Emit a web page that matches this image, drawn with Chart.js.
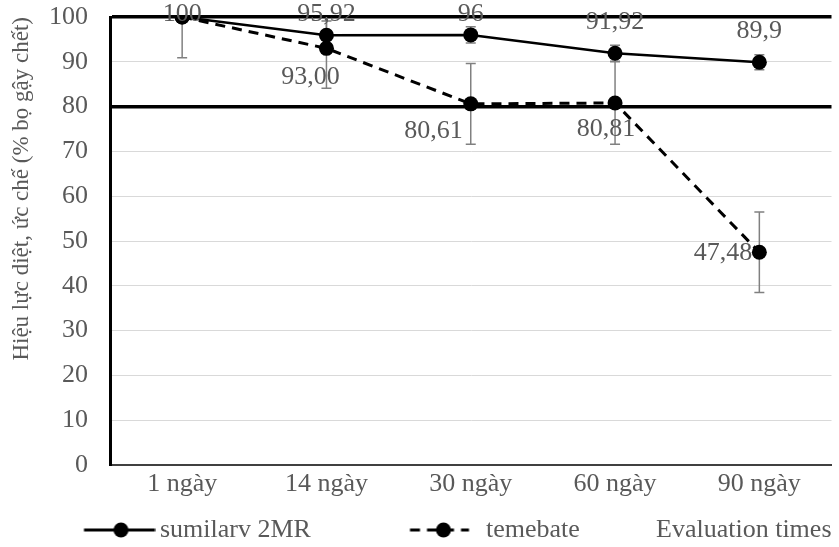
<!DOCTYPE html>
<html><head><meta charset="utf-8">
<script src="https://cdn.jsdelivr.net/npm/chart.js@4.4.1/dist/chart.umd.min.js"></script>
<style>html,body{margin:0;padding:0;background:#fff;}#wrap{width:839px;height:547px;position:relative;}</style>
</head><body><div id="wrap"><canvas id="c" width="839" height="547" style="width:839px;height:547px"></canvas></div>
<script>
// ---- data ----
const categories = ['1 ngày', '14 ngày', '30 ngày', '60 ngày', '90 ngày'];
const sumilarv = [100, 95.92, 96, 91.92, 89.9];
const temebate = [100, 93.00, 80.61, 80.81, 47.48];
const sumilarvErr = [0, 3.2, 1.8, 1.8, 1.7];
const temebateErr = [9.1, 8.9, 9.0, 9.2, 9.0];
const sumilarvLabels = ['100', '95,92', '96', '91,92', '89,9'];
const temebateLabels = ['', '93,00', '80,61', '80,81', '47,48'];
const yTicks = [0, 10, 20, 30, 40, 50, 60, 70, 80, 90, 100];

// ---- style ----
const FONT = "'Liberation Serif', serif";
const TXT = '#595959';
const FS = 26;
Chart.defaults.font.family = FONT;
const temebateLabelPlacement = [null, ['center', -16, 29], ['right', -8, 27], ['center', -9, 26], ['right', -7, 1]];

// legend geometry
const LEG_BOX = 63, LEG_X0 = 84, LEG_X1 = 410, LEG_Y = 530;
const mctx = document.createElement('canvas').getContext('2d');
mctx.font = FS + 'px ' + FONT;
const LEG_PAD = Math.round(LEG_X1 - LEG_X0 - (LEG_BOX + FS / 2 + mctx.measureText('sumilarv 2MR').width));

function legendMarker(dashed) {
  const cv = document.createElement('canvas');
  cv.width = 80; cv.height = 18;
  const g = cv.getContext('2d');
  g.strokeStyle = '#000'; g.lineWidth = 3;
  if (dashed) g.setLineDash([10, 7]);
  g.beginPath(); g.moveTo(8.5, 9); g.lineTo(dashed ? 67.5 : 79.5, 9); g.stroke();
  g.setLineDash([]);
  g.fillStyle = '#000'; g.beginPath(); g.arc(dashed ? 42 : 45.5, 9, 7.5, 0, Math.PI * 2); g.fill();
  return cv;
}
const markers = [legendMarker(false), legendMarker(true)];
const errs = [sumilarvErr, temebateErr];

const errorBars = {
  id: 'errorBars',
  beforeDatasetsDraw(chart) {
    const {ctx, chartArea: a, scales: {x, y}} = chart;
    ctx.save();
    ctx.beginPath(); ctx.rect(a.left, a.top, a.right - a.left, a.bottom - a.top); ctx.clip();
    ctx.strokeStyle = '#808080'; ctx.lineWidth = 1.5;
    chart.data.datasets.forEach((ds, di) => {
      ds.data.forEach((v, i) => {
        const e = errs[di][i];
        if (!e) return;
        const px = x.getPixelForValue(i);
        const t = y.getPixelForValue(v + e), b = y.getPixelForValue(v - e);
        ctx.beginPath();
        ctx.moveTo(px, t); ctx.lineTo(px, b);
        ctx.moveTo(px - 5, t); ctx.lineTo(px + 5, t);
        ctx.moveTo(px - 5, b); ctx.lineTo(px + 5, b);
        ctx.stroke();
      });
    });
    ctx.restore();
  }
};

const dataLabels = {
  id: 'dataLabels',
  afterDatasetsDraw(chart) {
    const {ctx, scales: {x, y}} = chart;
    ctx.save();
    ctx.font = FS + 'px ' + FONT;
    ctx.fillStyle = TXT;
    ctx.textBaseline = 'middle';
    sumilarvLabels.forEach((t, i) => {
      const px = x.getPixelForValue(i), py = y.getPixelForValue(sumilarv[i]);
      const ly = Math.max(py - 31, 14);
      ctx.textAlign = 'center';
      ctx.fillText(t, px, ly);
    });
    temebateLabels.forEach((t, i) => {
      if (!t) return;
      const [al, dx, dy] = temebateLabelPlacement[i];
      const px = x.getPixelForValue(i), py = y.getPixelForValue(temebate[i]);
      ctx.textAlign = al;
      ctx.fillText(t, px + dx, py + dy);
    });
    ctx.restore();
  }
};

const legendTweak = {
  id: 'legendTweak',
  beforeLayout(chart) {
    const l = chart.legend;
    if (l && !l._wrappedFit) {
      const f = l.fit;
      l.fit = function () { f.call(this); this.height = 37; };
      l._wrappedFit = true;
    }
  },
  afterLayout(chart) {
    const l = chart.legend;
    l.left = LEG_X0 - LEG_PAD;
    l.right = 839;
    l.top = LEG_Y - LEG_PAD - FS / 2;
    l.bottom = 547;
  }
};

new Chart(document.getElementById('c'), {
  type: 'line',
  data: {
    labels: categories,
    datasets: [
      {label: 'sumilarv 2MR', data: sumilarv, borderColor: '#000', backgroundColor: '#000', borderWidth: 2.5,
       pointRadius: 7.5, pointBackgroundColor: '#000', pointBorderWidth: 0, tension: 0},
      {label: 'temebate', data: temebate, borderColor: '#000', backgroundColor: '#000', borderWidth: 3, borderDash: [10, 7],
       pointRadius: 7.5, pointBackgroundColor: '#000', pointBorderWidth: 0, tension: 0}
    ]
  },
  options: {
    responsive: false,
    animation: false,
    devicePixelRatio: 1,
    layout: {padding: {top: 17, right: 1, bottom: 0, left: 0}},
    plugins: {
      tooltip: {enabled: false},
      legend: {
        position: 'bottom', align: 'start',
        labels: {
          usePointStyle: true, pointStyleWidth: LEG_BOX, padding: LEG_PAD,
          font: {family: FONT, size: FS}, color: TXT,
          generateLabels: (chart) => chart.data.datasets.map((ds, i) => ({
            text: ds.label, pointStyle: markers[i], fillStyle: '#000', strokeStyle: '#000', lineWidth: 0,
            fontColor: TXT, datasetIndex: i, hidden: false
          }))
        }
      }
    },
    scales: {
      x: {
        offset: true,
        grid: {
          display: true, drawTicks: false, offset: true,
          color: c => (c.index === categories.length ? '#bfbfbf' : 'rgba(0,0,0,0)'),
          lineWidth: 1
        },
        border: {display: true, color: '#404040', width: 2},
        ticks: {font: {family: FONT, size: FS}, color: TXT, padding: 4, maxRotation: 0},
        title: {display: true, text: 'Evaluation times', align: 'end', color: TXT,
                font: {family: FONT, size: FS}, padding: {top: 0, bottom: -35.6}},
        afterFit(s) { s.height = 45; s.paddingLeft = 0; s.paddingRight = 0; }
      },
      y: {
        min: 0, max: 100,
        afterBuildTicks(s) { s.ticks = yTicks.map(v => ({value: v})); },
        grid: {
          drawTicks: false,
          color: c => (c.tick && (c.tick.value === 100 || c.tick.value === 80)) ? '#000' : (c.tick && c.tick.value === 0 ? 'rgba(0,0,0,0)' : '#d9d9d9'),
          lineWidth: c => (c.tick && (c.tick.value === 100 || c.tick.value === 80)) ? 3.5 : 1
        },
        border: {display: true, color: '#000', width: 3},
        ticks: {font: {family: FONT, size: FS}, color: TXT, padding: 22},
        title: {display: true, text: 'Hiệu lực diệt, ức chế (% bọ gậy chết)', align: 'end', color: TXT,
                font: {family: FONT, size: 23}, padding: {top: 8, bottom: 0}},
        afterFit(s) { s.width = 110; s.paddingTop = 10; s.paddingBottom = 10; }
      }
    }
  },
  plugins: [errorBars, dataLabels, legendTweak]
});
</script></body></html>
